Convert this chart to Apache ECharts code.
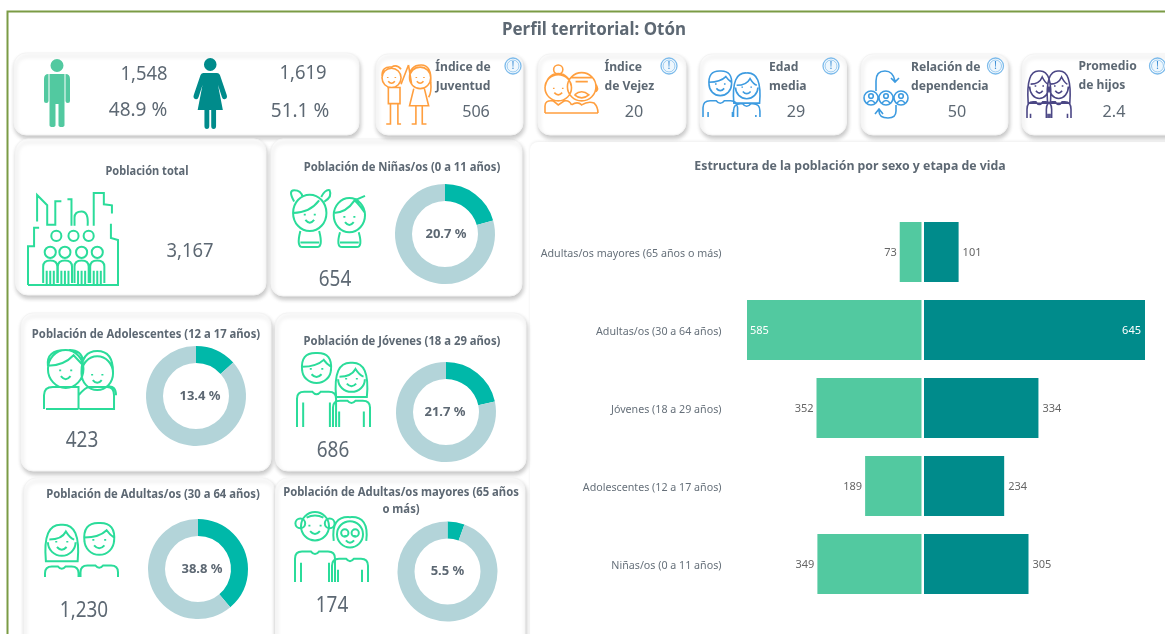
<!DOCTYPE html>
<html><head><meta charset="utf-8">
<style>html,body{margin:0;padding:0;background:#fff;overflow:hidden}#c{width:1165px;height:634px}</style>
<script src="https://cdn.jsdelivr.net/npm/echarts@6/dist/echarts.min.js"></script>
</head><body><div id="c"></div>
<script>
// ---------- data ----------
const pageTitle = 'Perfil territorial: Otón';
const chartTitle = 'Estructura de la población por sexo y etapa de vida';
const categories = ['Adultas/os mayores (65 años o más)','Adultas/os (30 a 64 años)','Jóvenes (18 a 29 años)','Adolescentes (12 a 17 años)','Niñas/os (0 a 11 años)'];
const menValues = [73,585,352,189,349];
const womenValues = [101,645,334,234,305];
const totalPopulation = 3167;
const sexCounts = ['1,548','1,619'];
const sexShares = ['48.9 %','51.1 %'];
const donutTitles = [['Población de Niñas/os (0 a 11 años)'],['Población de Adolescentes (12 a 17 años)'],['Población de Jóvenes (18 a 29 años)'],['Población de Adultas/os (30 a 64 años)'],['Población de Adultas/os mayores (65 años','o más)']];
const donutCounts = [654,423,686,1230,174];
const donutCountLabels = ['654','423','686','1,230','174'];
const donutPercents = ['20.7 %','13.4 %','21.7 %','38.8 %','5.5 %'];
const kpiLabels = [['Índice de','Juventud'],['Índice','de Vejez'],['Edad','media'],['Relación de','dependencia'],['Promedio','de hijos']];
const kpiValues = ['506','20','29','50','2.4'];

// ---------- layout ----------
const FONT = '"Noto Sans"', GREY = '#5d6873', LIGHT = '#52C9A0', DARK = '#008B8B', MINT = '#2BDC9A';
const donutBoxes = [
 {card:[271,139,251,157],c:[445,234],title:[402,166],val:[335,278],dx:1},
 {card:[21,313,250,158],c:[196,396],title:[146,333],val:[82,439],dx:4},
 {card:[275.5,313,250.5,158],c:[446,412],title:[402,340],val:[333,449],dx:-1},
 {card:[24,478,250.5,180],c:[198,569],title:[153,493],val:[84,609],dx:4},
 {card:[275.5,478,249.5,180],c:[447.5,571.5],title:[401,491],val:[332,604],dx:0}
];
const kpiBoxes = [
 {card:[376,54,147,81],tx:463,align:'center',vx:476,info:513},
 {card:[538,54,148,81],tx:604.5,align:'left',vx:634,info:669},
 {card:[700,54,146.5,81],tx:769,align:'left',vx:796,info:831},
 {card:[861,54,147,81],tx:911,align:'left',vx:957,info:995.5},
 {card:[1022,54,160,81],tx:1078.5,align:'left',vx:1114,info:1157.5}
];

// ---------- decorative icon path helpers ----------
const circ=(x,y,r)=>`M${x-r} ${y}a${r} ${r} 0 1 0 ${2*r} 0a${r} ${r} 0 1 0 ${-2*r} 0`;
const chin=(x,y,r)=>`M${x-r} ${y}A${r} ${r} 0 0 0 ${x+r} ${y}`;
const face=(x,y,r)=>`M${x-r*.4} ${y-r*.1}v${r*.12}M${x+r*.4} ${y-r*.1}v${r*.12}M${x-r*.35} ${y+r*.35}Q${x} ${y+r*.75} ${x+r*.35} ${y+r*.35}`;
const shortHair=(x,y,r)=>`M${x-r} ${y+r*.1}Q${x-r*1.15} ${y-r*1.25} ${x} ${y-r*1.2}Q${x+r*1.15} ${y-r*1.25} ${x+r} ${y+r*.1}M${x-r} ${y-r*.2}Q${x} ${y-r*.2} ${x+r*.5} ${y-r*.7}Q${x+r*.7} ${y-r*.4} ${x+r} ${y-r*.2}`;
const longHair=(x,y,r)=>`M${x-r*1.15} ${y+r*1.4}Q${x-r*1.4} ${y-r*1.4} ${x} ${y-r*1.3}Q${x+r*1.4} ${y-r*1.4} ${x+r*1.15} ${y+r*1.4}ZM${x-r*.9} ${y-r*.2}Q${x} ${y-r*.2} ${x+r*.3} ${y-r*.8}Q${x+r*.6} ${y-r*.3} ${x+r*.9} ${y-r*.2}`;
const body=(x,top,w,bot,arms)=>`M${x-w} ${bot}V${top+7}Q${x-w} ${top} ${x-w+7} ${top}H${x-4}Q${x} ${top+5} ${x+4} ${top}H${x+w-7}Q${x+w} ${top} ${x+w} ${top+7}V${bot}`+(arms?`M${x-w+arms} ${bot}V${top+11}M${x+w-arms} ${bot}V${top+11}`:'');
const man=(x,y,r,top,w,bot,arms)=>chin(x,y,r)+face(x,y,r)+shortHair(x,y,r)+body(x,top,w,bot,arms);
const woman=(x,y,r,top,w,bot,arms)=>chin(x,y,r)+face(x,y,r)+longHair(x,y,r)+body(x,top,w,bot,arms);
const elder=(x,y,r,top,w,bot,arms)=>circ(x,y,r)+face(x,y,r)+circ(x-r*1.05,y-r*.2,r*.35)+circ(x+r*1.05,y-r*.2,r*.35)+`M${x-r*.6} ${y-r*.6}Q${x} ${y-r*.9} ${x+r*.6} ${y-r*.6}`+body(x,top,w,bot,arms);
const granny=(x,y,r,top,w,bot,arms)=>circ(x,y,r)+face(x,y+r*.15,r*.9)+circ(x-r*.4,y-r*.1,r*.28)+circ(x+r*.4,y-r*.1,r*.28)+`M${x-r*1.25} ${y+r*.5}Q${x-r*1.5} ${y-r*1.4} ${x} ${y-r*1.3}Q${x+r*1.5} ${y-r*1.4} ${x+r*1.25} ${y+r*.5}`+body(x,top,w,bot,arms);

const silhouetteMan=circ(13,6.5,6.5)+'M0 20Q0 15 4.5 15V42Q4.5 44 2.2 44T0 42ZM26 20Q26 15 21.5 15V42Q21.5 44 23.8 44T26 42ZM5.5 15H20.5V66Q20.5 68 17.5 68T14.5 66V45H11.5V66Q11.5 68 8.5 68T5.5 66Z';
const silhouetteWoman=circ(17,6.5,6.5)+'M10 15H24Q26 15 27 17L34 37Q35 40 32.5 41T29 39L25 27L30 52H23V68Q23 71 20.5 71T18 68V52H16V68Q16 71 13.5 71T11 68V52H4L9 27L5 39Q4 42 1.5 41T0 37L7 17Q8 15 10 15Z';

const crowdHeads=[[29,44,5],[46,44,5],[61,44,5],[23,60,5.5],[37.5,60,5.5],[54,60,5.5],[69.5,60,5.5]].map(h=>circ(h[0],h[1],h[2])).join('');
const crowdBodies=[23,37.5,54,69.5].map(x=>`M${x-7} 90V74Q${x-7} 68 ${x} 68Q${x+7} 68 ${x+7} 74V90M${x-3.5} 92V78M${x} 92V78M${x+3.5} 92V78`).join('');
const skyline='M1 92H90V48L83 46V32M84 22V14L76 13V2H66V16M66 16V34M1 92V54H7V36H12M10 30V4L20 14V30M20 30V33H28V10H34M40 8H44V34M47 34V26Q47 20 54 20Q61 20 60 34'+crowdHeads+crowdBodies;

const kids=circ(19,20,16)+face(19,22,12)+'M3 20Q19 20 28 9M4 10Q-2 0 4 0Q11 0 12 6M30 6Q34 -1 38 0Q41 6 33 10'+'M10 36Q6 50 12 50H26Q32 50 28 36M10 46H28'+circ(57,22,15)+face(57,24,12)+'M42 20Q54 20 62 9Q66 12 72 20M62 9L72 5'+'M48 37Q44 50 50 50H64Q70 50 66 37M48 46H66';
const teens=circ(22,21,18)+face(22,23,14)+'M4 18Q20 18 30 8Q34 12 40 18M4 18Q2 3 22 3M26 3Q38 3 40 14'+'M0 59V46Q0 38 9 38H35V59M2 59H35'+circ(54,25,16)+face(54,27,13)+`M38 24Q38 4 54 4Q70 4 70 24`+'M35 46Q42 38 46 38H64Q71 38 71 46V59H36'+'M64 38Q73 36 73 46';
const youths=man(20,15,14,38,19,74,6)+woman(54,25,13,47,18,74,6);
const adults=woman(17,18,14,43,17,54)+man(55,16,15,42,19,54);
const oldPair=elder(20,15,14,40,20,70,6)+granny(55,23,13,47,18,70,6);
const orangePair=circ(11,16,9)+face(11,16,9)+'M2 14Q2 5 11 6Q16 3 20 8M20 22L27 4M8 25V40H19V25H7M10 40V59H6M17 40V59H20'+circ(38,16,10)+face(38,16,9)+'M28 16Q28 4 39 4Q49 4 48 20Q49 30 46 34M30 22L27 4M32 26L28 42H46L42 26M34 42V59H30M40 42V59H44';
const vejezPair=circ(13,23,13)+face(13,24,11)+circ(13,5,4.5)+'M0 22Q3 9 13 9Q23 9 26 22M0 48V41Q0 35 8 36L13 40L19 36Q24 35 26 40M0 48H52'+circ(36,22,14)+'M26 13H46M30 17H42M29 30Q36 24 43 30Q36 36 29 30M50 20Q53 24 50 27'+'M26 40Q32 36 36 40Q42 36 48 38Q52 42 52 48';
const bluePair=man(18,14,11,30,17,46,5)+woman(44,17,11,33,13,46,4);
const purplePair=woman(14,18,11,32,14,47,4)+woman(36,18,11,32,14,47,4);
const relation=[7,22,37].map(x=>circ(x,27,7)+circ(x,25,2.3)+`M${x-4} 32Q${x} 27 ${x+4} 32`).join('')+'M12 20V10Q12 0 21 0Q29 0 31 10M27 7L31 11L35 7M32 34V40Q32 47 24 47Q15 47 15 40M11 43L15 38L19 43';

const icons=[
 {p:silhouetteMan,b:[44,59,26,68],fill:LIGHT},
 {p:silhouetteWoman,b:[193.5,58,33.5,71],fill:DARK},
 {p:orangePair,b:[382,65,49,59],s:'#FF9F3F'},
 {p:vejezPair,b:[545,65,53,48],s:'#FF9F3F'},
 {p:bluePair,b:[703,71,57,46],s:'#3D9BE0'},
 {p:relation,b:[864,71,44,47],s:'#3D9BE0'},
 {p:purplePair,b:[1027,71,44,47],s:'#4B4785'},
 {p:skyline,b:[28,193,90,92],s:MINT,w:2},
 {p:kids,b:[291,190,74,57],s:MINT,w:2},
 {p:teens,b:[44,350,72,59],s:MINT,w:2},
 {p:youths,b:[297,353,73,74],s:MINT,w:2},
 {p:adults,b:[45,523,73,54],s:MINT,w:2},
 {p:oldPair,b:[295,512,73,70],s:MINT,w:2}
];

// ---------- graphic helpers ----------
const shapes=[];
function card(b){shapes.push({type:'rect',z:0,shape:{x:b[0],y:b[1],width:b[2],height:b[3],r:12},style:{fill:'#fff',stroke:'#f4f4f4',lineWidth:1,shadowBlur:4,shadowOffsetX:1,shadowOffsetY:3,shadowColor:'rgba(0,0,0,.22)'}});}
function txt(x,y,t,size,bold,align,color,sx){shapes.push({type:'text',z:5,x:x,y:y+1.5,scaleX:sx||1,style:{text:t,fill:color||GREY,font:`${bold?'700 ':''}${size}px ${FONT}`,textAlign:align||'center',textVerticalAlign:'middle'}});}

shapes.push({type:'polyline',z:1,shape:{points:[[7.5,634],[7.5,11.5],[1165,11.5]]},style:{stroke:'#7B9B45',lineWidth:2,fill:'none'}});
shapes.push({type:'rect',z:0,shape:{x:530,y:142,width:660,height:520,r:8},style:{fill:'#fff',shadowBlur:3,shadowOffsetY:-1,shadowColor:'rgba(0,0,0,.07)'}});
card([14,53,345,82]);
card([15.5,139,250.5,156]);
donutBoxes.forEach(d=>card(d.card));
kpiBoxes.forEach(k=>card(k.card));

txt(594,28.5,pageTitle,18,true,'center',GREY,.94);
txt(144,73,sexCounts[0],20,false,'center',GREY,.92);
txt(138,109,sexShares[0],20,false,'center',GREY,.95);
txt(303,72,sexCounts[1],20,false,'center',GREY,.92);
txt(300,110,sexShares[1],20,false,'center',GREY,.95);
txt(147,170,'Población total',12,true,'center',GREY,.92);
txt(190,250,totalPopulation.toLocaleString('en-US'),20,false,'center',GREY,.92);
kpiBoxes.forEach((k,i)=>{
  const top=i===4?65:66;
  txt(k.tx,top,kpiLabels[i][0],12.5,true,k.align,GREY,.97);
  txt(k.tx,top+19,kpiLabels[i][1],12.5,true,k.align,GREY,.97);
  txt(k.vx,111,kpiValues[i],17,false,'center',GREY,.95);
  shapes.push({type:'circle',z:5,shape:{cx:k.info,cy:66,r:8},style:{fill:'#fff',stroke:'#7DBBEB',lineWidth:1.3}});
  shapes.push({type:'circle',z:5,shape:{cx:k.info,cy:66,r:6},style:{fill:'#EEF7FD',stroke:'#7DBBEB',lineWidth:.8}});
  txt(k.info,64.5,'!',11,false,'center','#3D8FD6');
});
donutBoxes.forEach((d,i)=>{
  donutTitles[i].forEach((t,j)=>txt(d.title[0],d.title[1]+j*17,t,12,true,'center',GREY,.94));
  txt(d.val[0],d.val[1],donutCountLabels[i],22,false,'center',GREY,.86);
});
txt(850,165,chartTitle,13,true,'center',GREY,.947);

// ---------- series ----------
const barLabel=(v,inPos,outPos)=>({value:v,label:v>500?{position:inPos,color:'#fff'}:{position:outPos,color:'#666'}});
const series=[
 {type:'bar',name:'Hombres',xAxisIndex:0,yAxisIndex:0,barWidth:60,silent:true,itemStyle:{color:LIGHT},
  label:{show:true,fontFamily:FONT,fontSize:11,distance:3,offset:[0,1]},data:menValues.map(v=>barLabel(v,'insideLeft','left'))},
 {type:'bar',name:'Mujeres',xAxisIndex:1,yAxisIndex:1,barWidth:60,silent:true,itemStyle:{color:DARK},
  label:{show:true,fontFamily:FONT,fontSize:11,distance:4,offset:[0,1]},data:womenValues.map(v=>barLabel(v,'insideRight','right'))},
 {type:'custom',coordinateSystem:'none',silent:true,z:3,data:icons.map((_,i)=>[i]),
  renderItem:(p,api)=>{const ic=icons[api.value(0)];return {type:'path',shape:{pathData:ic.p,layout:'cover',x:ic.b[0],y:ic.b[1],width:ic.b[2],height:ic.b[3]},
    style:ic.fill?{fill:ic.fill,stroke:null}:{fill:'none',stroke:ic.s,lineWidth:ic.w||1.6}};}}
];
donutBoxes.forEach((d,i)=>series.push({type:'pie',silent:true,center:d.c,radius:[33,50],startAngle:90,clockwise:true,
  data:[{value:donutCounts[i],itemStyle:{color:'#00B8A9'},label:{show:true,position:'center',formatter:donutPercents[i],fontFamily:FONT,fontSize:13,fontWeight:700,color:GREY,
          padding:[3,d.dx<0?-2*d.dx:0,0,d.dx>0?2*d.dx:0]}},
        {value:totalPopulation-donutCounts[i],itemStyle:{color:'#B3D4D9'},label:{show:false}}],
  labelLine:{show:false},emphasis:{disabled:true}}));

const chart=echarts.init(document.getElementById('c'),null,{renderer:'canvas'});
chart.setOption({
  animation:false,backgroundColor:'#fff',
  graphic:{elements:shapes},
  grid:[{left:747,width:174.5,top:213,height:390},{left:924,width:221,top:213,height:390}],
  xAxis:[{type:'value',gridIndex:0,inverse:true,min:0,max:585,show:false},{type:'value',gridIndex:1,min:0,max:645,show:false}],
  yAxis:[{type:'category',gridIndex:0,inverse:true,data:categories,position:'left',axisLine:{show:false,onZero:false},axisTick:{show:false},
          axisLabel:{margin:25.5,formatter:'{a|{value}}',rich:{a:{color:'#66707a',fontFamily:FONT,fontSize:10.7,padding:[4,0,0,0]}}}},
         {type:'category',gridIndex:1,inverse:true,data:categories,axisLine:{show:false},axisTick:{show:false},axisLabel:{show:false}}],
  series:series
});
</script></body></html>
